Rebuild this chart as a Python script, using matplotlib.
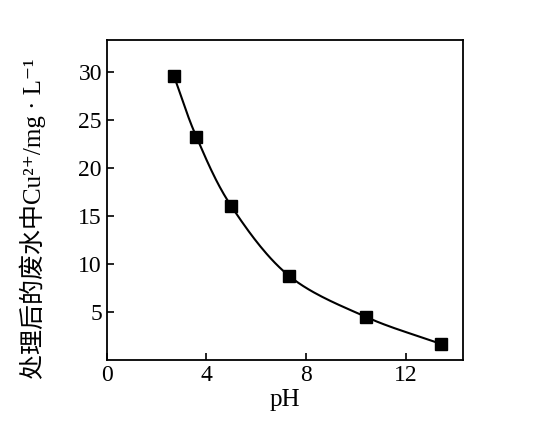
import numpy as np
import matplotlib
matplotlib.use("Agg")
import matplotlib.pyplot as plt

ph = [2.7, 3.6, 5.0, 7.3, 10.4, 13.4]
cu = [29.5, 23.2, 16.0, 8.8, 4.5, 1.7]
xticks = [0, 4, 8, 12]
yticks = [5, 10, 15, 20, 25, 30]

fig = plt.figure(figsize=(5.34, 4.43), dpi=100)
ax = fig.add_axes([0.200, 0.187, 0.667, 0.723])

# Catmull-Rom smooth curve through the points
P = np.column_stack([ph, cu])
P = np.vstack([2*P[0]-P[1], P, 2*P[-1]-P[-2]])
xs, ys = [], []
t = np.linspace(0, 1, 30)[:, None]
for i in range(1, len(P)-2):
    p0, p1, p2, p3 = P[i-1], P[i], P[i+1], P[i+2]
    seg = 0.5*((2*p1) + (-p0+p2)*t + (2*p0-5*p1+4*p2-p3)*t**2 + (-p0+3*p1-3*p2+p3)*t**3)
    xs.extend(seg[:, 0]); ys.extend(seg[:, 1])
ax.plot(xs, ys, color='black', lw=1.5)
ax.plot(ph, cu, 's', color='black', ms=8)

ax.set_xlim(0, 14.3)
ax.set_ylim(0, 33.3)
ax.set_xticks(xticks)
ax.set_yticks(yticks)
ax.tick_params(direction='in', length=5, width=1.2, labelsize=17)
for lab in ax.get_xticklabels() + ax.get_yticklabels():
    lab.set_family('Liberation Serif')
for s in ax.spines.values():
    s.set_linewidth(1.3)
ax.set_xlabel('pH', family='Liberation Serif', fontsize=18, labelpad=2)
ax.set_ylabel('处理后的废水中Cu²⁺/mg · L⁻¹',
              family=['Liberation Serif', 'Noto Sans CJK SC', 'DejaVu Sans'],
              fontsize=18, labelpad=4)
ax.yaxis.set_label_coords(-0.17, 0.44)
fig.savefig('out.png', dpi=100)
